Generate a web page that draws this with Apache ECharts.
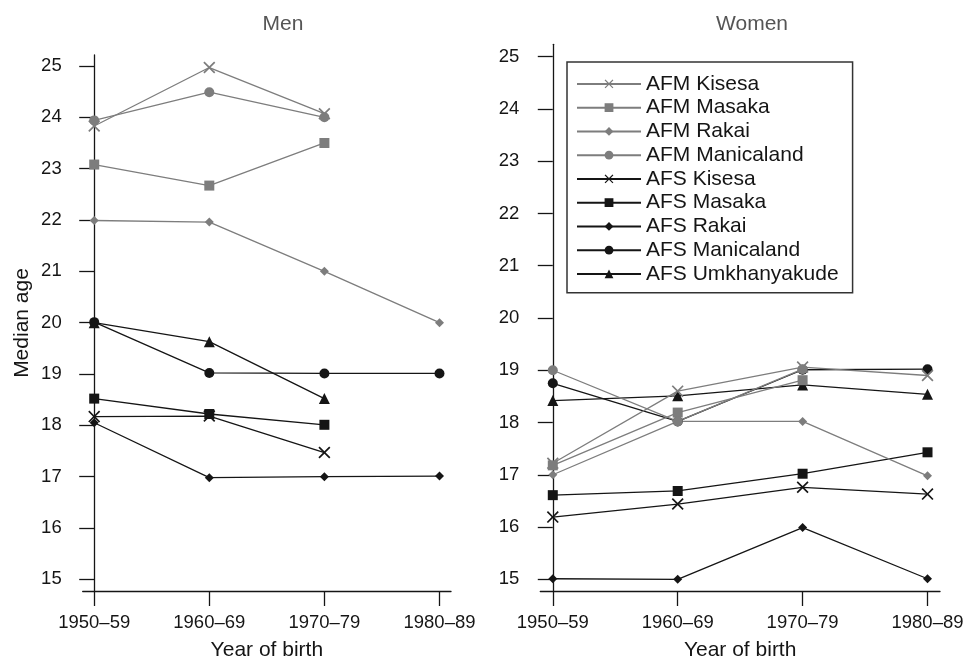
<!DOCTYPE html>
<html>
<head>
<meta charset="utf-8">
<title>Median age by year of birth</title>
<script src="https://cdn.jsdelivr.net/npm/echarts@6/dist/echarts.min.js"></script>
<style>
  html, body { margin: 0; background: #fff; }
  #chart { width: 965px; height: 659px; }
</style>
</head>
<body>
<div id="chart"></div>
<script>
const categories = ['1950–59', '1960–69', '1970–79', '1980–89'];
const yTicks = [15, 16, 17, 18, 19, 20, 21, 22, 23, 24, 25];
const seriesNames = ['AFM Kisesa', 'AFM Masaka', 'AFM Rakai', 'AFM Manicaland',
  'AFS Kisesa', 'AFS Masaka', 'AFS Rakai', 'AFS Manicaland', 'AFS Umkhanyakude'];

// Men
const menAfmKisesa = [23.83, 24.97, 24.07, null];
const menAfmMasaka = [23.08, 22.67, 23.5, null];
const menAfmRakai = [21.99, 21.96, 21.0, 20.0];
const menAfmManicaland = [23.94, 24.49, 24.0, null];
const menAfsKisesa = [18.17, 18.18, 17.47, null];
const menAfsMasaka = [18.52, 18.22, 18.01, null];
const menAfsRakai = [18.05, 16.98, 17.0, 17.01];
const menAfsManicaland = [20.01, 19.02, 19.01, 19.01];
const menAfsUmkhanyakude = [20.0, 19.63, 18.52, null];

// Women
const womenAfmKisesa = [17.22, 18.6, 19.06, 18.9];
const womenAfmMasaka = [17.18, 18.19, 18.81, null];
const womenAfmRakai = [17.0, 18.02, 18.02, 16.98];
const womenAfmManicaland = [19.0, 18.02, 19.02, null];
const womenAfsKisesa = [16.19, 16.44, 16.76, 16.63];
const womenAfsMasaka = [16.61, 16.69, 17.02, 17.43];
const womenAfsRakai = [15.01, 15.0, 15.99, 15.01];
const womenAfsManicaland = [18.75, 18.02, 19.01, 19.02];
const womenAfsUmkhanyakude = [18.42, 18.51, 18.72, 18.54];

const GRAY = '#7d7d7d';
const BLACK = '#151515';
const FONT = "'Liberation Sans', Arial, Helvetica, sans-serif";
const crossPath = 'path://M0,1L1,0L5,4L9,0L10,1L6,5L10,9L9,10L5,6L1,10L0,9L4,5Z';

// name -> marker look
const styles = {
  'AFM Kisesa': { color: GRAY, symbol: crossPath, size: 12 },
  'AFM Masaka': { color: GRAY, symbol: 'rect', size: 10 },
  'AFM Rakai': { color: GRAY, symbol: 'diamond', size: 9 },
  'AFM Manicaland': { color: GRAY, symbol: 'circle', size: 10 },
  'AFS Kisesa': { color: BLACK, symbol: crossPath, size: 12 },
  'AFS Masaka': { color: BLACK, symbol: 'rect', size: 10 },
  'AFS Rakai': { color: BLACK, symbol: 'diamond', size: 9 },
  'AFS Manicaland': { color: BLACK, symbol: 'circle', size: 10 },
  'AFS Umkhanyakude': { color: BLACK, symbol: 'triangle', size: 11 }
};

const menData = {
  'AFM Kisesa': menAfmKisesa, 'AFM Masaka': menAfmMasaka, 'AFM Rakai': menAfmRakai,
  'AFM Manicaland': menAfmManicaland, 'AFS Kisesa': menAfsKisesa, 'AFS Masaka': menAfsMasaka,
  'AFS Rakai': menAfsRakai, 'AFS Manicaland': menAfsManicaland, 'AFS Umkhanyakude': menAfsUmkhanyakude
};
const womenData = {
  'AFM Kisesa': womenAfmKisesa, 'AFM Masaka': womenAfmMasaka, 'AFM Rakai': womenAfmRakai,
  'AFM Manicaland': womenAfmManicaland, 'AFS Kisesa': womenAfsKisesa, 'AFS Masaka': womenAfsMasaka,
  'AFS Rakai': womenAfsRakai, 'AFS Manicaland': womenAfsManicaland, 'AFS Umkhanyakude': womenAfsUmkhanyakude
};

const catIndex = categories.map((c, i) => i);

function makeSeries(dataMap, gridIndex) {
  // black (AFS) first so grey (AFM) marks sit on top, as in the figure
  const order = seriesNames.slice(4).concat(seriesNames.slice(0, 4));
  return order.map(name => {
    const s = styles[name];
    const vals = dataMap[name];
    return {
      name: name,
      type: 'line',
      xAxisIndex: gridIndex,
      yAxisIndex: gridIndex,
      data: vals.map((v, i) => [i, v]).filter(p => p[1] != null),
      symbol: s.symbol,
      symbolSize: s.size,
      showAllSymbol: true,
      lineStyle: { color: s.color, width: 1.3 },
      itemStyle: { color: s.color, borderWidth: 0 },
      emphasis: { disabled: true },
      animation: false
    };
  });
}

function xAxis(gridIndex) {
  return {
    type: 'value',
    gridIndex: gridIndex,
    min: -0.1,
    max: 3.1,
    axisLine: { show: true, onZero: false, lineStyle: { color: BLACK, width: 1.3 } },
    axisTick: { show: true, customValues: catIndex, length: 15, lineStyle: { color: BLACK, width: 1.3 } },
    axisLabel: {
      customValues: catIndex,
      formatter: v => categories[v],
      margin: 22, fontSize: 18.5, color: BLACK, fontFamily: FONT
    },
    splitLine: { show: false },
    name: 'Year of birth',
    nameLocation: 'middle',
    nameGap: 49,
    nameTextStyle: { fontSize: 21, color: BLACK, fontFamily: FONT }
  };
}

function yAxis(gridIndex, min, max, name) {
  return {
    type: 'value',
    gridIndex: gridIndex,
    min: min,
    max: max,
    axisLine: { show: true, lineStyle: { color: BLACK, width: 1.3 } },
    axisTick: { show: true, customValues: yTicks, length: 15, lineStyle: { color: BLACK, width: 1.3 } },
    axisLabel: { customValues: yTicks, margin: 21, fontSize: 18.5, color: BLACK, fontFamily: FONT },
    splitLine: { show: false },
    name: name,
    nameLocation: 'middle',
    nameGap: 50,
    nameTextStyle: { fontSize: 21, color: BLACK, fontFamily: FONT }
  };
}

const chart = echarts.init(document.getElementById('chart'));
chart.setOption({
  backgroundColor: '#fff',
  animation: false,
  title: [
    { text: 'Men', left: 283, top: 14, textAlign: 'center', padding: 0,
      textStyle: { fontSize: 21, fontWeight: 'normal', color: '#555', fontFamily: FONT } },
    { text: 'Women', left: 752, top: 14, textAlign: 'center', padding: 0,
      textStyle: { fontSize: 21, fontWeight: 'normal', color: '#555', fontFamily: FONT } }
  ],
  legend: {
    data: seriesNames,
    orient: 'vertical',
    left: 567,
    top: 62,
    padding: [10, 14, 7, 9],
    itemWidth: 64,
    itemHeight: 11,
    itemGap: 0,
    selectedMode: false,
    borderColor: '#333',
    borderWidth: 1.5,
    textStyle: { fontSize: 21, color: BLACK, fontFamily: FONT, lineHeight: 23.75 }
  },
  grid: [
    { left: 82.7, top: 55, width: 368.3, height: 536, outerBoundsMode: 'none', containLabel: false },
    { left: 540.3, top: 44.3, width: 399.7, height: 546.7, outerBoundsMode: 'none', containLabel: false }
  ],
  xAxis: [xAxis(0), xAxis(1)],
  yAxis: [
    yAxis(0, 14.772, 25.214, 'Median age'),
    yAxis(1, 14.776, 25.237, '')
  ],
  series: makeSeries(menData, 0).concat(makeSeries(womenData, 1))
});
</script>
</body>
</html>
